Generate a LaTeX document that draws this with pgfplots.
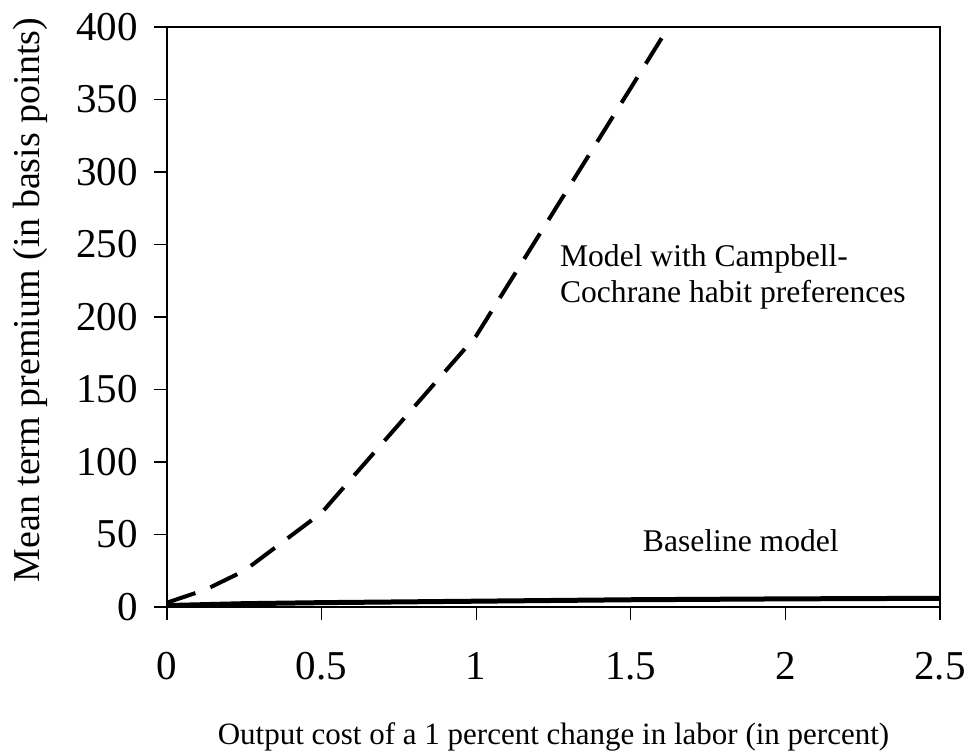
\documentclass[border=0pt]{standalone}
\usepackage{fontspec}
\setmainfont{Liberation Serif}
\usepackage{pgfplots}
\pgfplotsset{compat=1.18}
\begin{document}
\begin{tikzpicture}
\path[use as bounding box] (-83.5bp,-74.5bp) rectangle (400.5bp,303.5bp);
\begin{axis}[
  at={(0,0)}, anchor=south west,
  scale only axis, width=386.5bp, height=290bp,
  xmin=0, xmax=2.5, ymin=0, ymax=400,
  xtick={0,0.5,1,1.5,2,2.5}, ytick={0,50,100,150,200,250,300,350,400},
  xtick pos=bottom, ytick pos=left,
  tick align=outside, major tick length=6.5bp,
  every tick/.style={black, line width=0.6bp},
  axis line style={line width=1.2bp},
  /pgf/number format/assume math mode=true,
  ticklabel style={font=\fontsize{20.5bp}{24bp}\selectfont, inner sep=0pt},
  xticklabel style={anchor=north, yshift=-16bp},
  yticklabel style={anchor=east, xshift=-8bp},
  xlabel={Output cost of a 1 percent change in labor (in percent)},
  ylabel={Mean term premium (in basis points)},
  label style={inner sep=0pt},
  xlabel style={font=\fontsize{15.5bp}{18bp}\selectfont, at={(axis description cs:0.5,-0.2379)}, anchor=base},
  ylabel style={font=\fontsize{19bp}{22bp}\selectfont, at={(axis description cs:-0.1643,0.529)}, anchor=base},
]
\addplot[black, line width=2bp, dash pattern=on 15bp off 8bp] coordinates {
 (0,3) (0.125,12) (0.25,25) (0.5,65) (1,187) (1.5,358) (2,530)
};
\addplot[black, line width=2.5bp] coordinates {
 (0,1) (0.25,2.3) (0.5,3) (1,4) (1.5,5) (2,5.6) (2.5,6)
};
\node[anchor=base west, inner sep=0pt, font=\fontsize{15.8bp}{19bp}\selectfont] at (axis cs:1.27,235) {Model with Campbell-};
\node[anchor=base west, inner sep=0pt, font=\fontsize{15.8bp}{19bp}\selectfont] at (axis cs:1.27,210) {Cochrane habit preferences};
\node[anchor=base west, inner sep=0pt, font=\fontsize{15.8bp}{19bp}\selectfont] at (axis cs:1.538,38) {Baseline model};
\end{axis}
\end{tikzpicture}
\end{document}
